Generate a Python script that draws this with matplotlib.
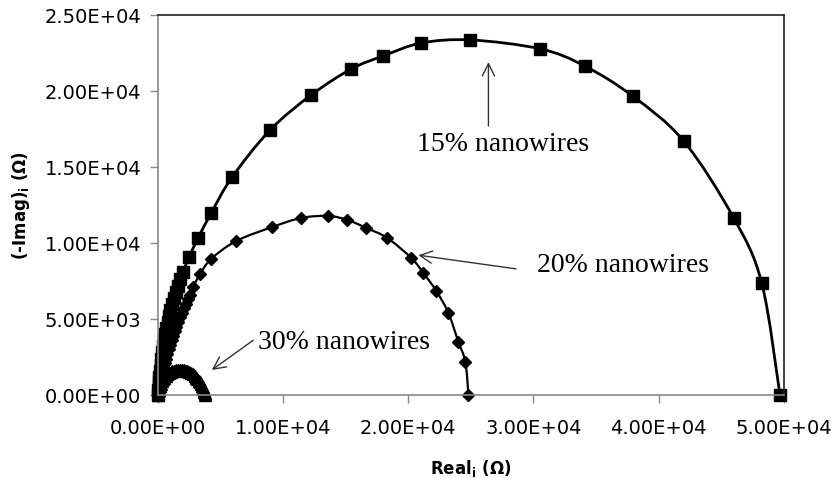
import matplotlib.pyplot as plt
from matplotlib.path import Path
from matplotlib.patches import PathPatch

# Nyquist data (Ohm)
x15 = [0, 20, 50, 80, 110, 150, 200, 260, 330, 400, 480, 570, 660, 760, 870,
       990, 1120, 1260, 1420, 1600, 1790, 2000, 2480, 3200, 4240, 5920, 8960,
       12240, 15440, 18000, 21040, 24960, 30560, 34080, 37920, 42000, 46000,
       48240, 49700]
y15 = [0, 300, 600, 900, 1200, 1600, 2000, 2400, 2800, 3200, 3600, 4000, 4400,
       4800, 5200, 5600, 6000, 6400, 6800, 7200, 7600, 8090, 9080, 10330, 11970,
       14340, 17440, 19740, 21450, 22310, 23160, 23360, 22770, 21650, 19670,
       16710, 11650, 7370, 0]

x20 = [0, 60, 130, 200, 280, 360, 450, 540, 640, 740, 850, 960, 1080, 1200,
       1330, 1460, 1600, 1750, 1900, 2060, 2220, 2400, 2580, 2800, 3360, 4240,
       6240, 9120, 11440, 13600, 15120, 16640, 18320, 20240, 21200, 22240,
       23200, 24000, 24560, 24800]
y20 = [0, 300, 600, 900, 1200, 1500, 1800, 2100, 2400, 2700, 3000, 3300, 3600,
       3900, 4200, 4500, 4800, 5100, 5400, 5700, 6000, 6300, 6600, 7110, 7960,
       8950, 10130, 11050, 11650, 11780, 11520, 10990, 10330, 9010, 8030, 6840,
       5400, 3490, 2170, 0]

x30 = [0, 20, 50, 100, 150, 220, 300, 400, 500, 620, 750, 870, 1000, 1150,
       1300, 1450, 1600, 1750, 1900, 2050, 2200, 2350, 2500, 2650, 2800, 2930,
       3050, 3150, 3250, 3330, 3400, 3480, 3550, 3600, 3650, 3700, 3750, 3760]
y30 = [0, 150, 300, 450, 600, 750, 900, 1030, 1150, 1250, 1350, 1430, 1500,
       1560, 1600, 1630, 1650, 1660, 1650, 1640, 1600, 1560, 1500, 1430, 1350,
       1250, 1150, 1050, 950, 850, 750, 620, 500, 400, 300, 200, 100, 0]

x_ticks = [0, 10000, 20000, 30000, 40000, 50000]
y_ticks = [0, 5000, 10000, 15000, 20000, 25000]


def smooth_path(xs, ys):
    # Excel-style smoothed line: Catmull-Rom segments as cubic Beziers
    pts = list(zip(xs, ys))
    verts = [pts[0]]
    codes = [Path.MOVETO]
    n = len(pts)
    for i in range(n - 1):
        p0 = pts[i - 1] if i > 0 else pts[i]
        p1, p2 = pts[i], pts[i + 1]
        p3 = pts[i + 2] if i + 2 < n else pts[i + 1]
        c1 = (p1[0] + (p2[0] - p0[0]) / 6, p1[1] + (p2[1] - p0[1]) / 6)
        c2 = (p2[0] - (p3[0] - p1[0]) / 6, p2[1] - (p3[1] - p1[1]) / 6)
        verts += [c1, c2, p2]
        codes += [Path.CURVE4] * 3
    return Path(verts, codes)


fig = plt.figure(figsize=(8.32, 4.78), dpi=100)
ax = fig.add_axes([0.19, 0.1736, 0.752, 0.795])

series = [(x30, y30, "^", 9, 1.6), (x20, y20, "D", 6.5, 1.6), (x15, y15, "s", 9, 2.0)]
for xs, ys, mk, ms, lw in series:
    ax.add_patch(PathPatch(smooth_path(xs, ys), facecolor="none", edgecolor="black",
                           linewidth=lw, clip_on=False))
    ax.plot(xs, ys, linestyle="none", color="black", marker=mk, markersize=ms,
            clip_on=False)

ax.set_xlim(0, 50000)
ax.set_ylim(0, 25000)
ax.set_xticks(x_ticks)
ax.set_yticks(y_ticks)
ax.set_xticklabels([f"{v:.2E}" for v in x_ticks])
ax.set_yticklabels([f"{v:.2E}" for v in y_ticks])
ax.tick_params(direction="out", length=6, width=1, color="#888888",
               labelsize=14, pad=6)
ax.tick_params(axis="x", pad=11)
for s in ["left", "bottom"]:
    ax.spines[s].set_color("#888888")
    ax.spines[s].set_linewidth(1.2)
for s in ["top", "right"]:
    ax.spines[s].set_color("#222222")
    ax.spines[s].set_linewidth(1.2)

ax.set_xlabel(r"Real$_\mathregular{i}$ (Ω)", fontsize=12, fontweight="bold", labelpad=15)
ax.set_ylabel(r"(-Imag)$_\mathregular{i}$ (Ω)", fontsize=12, fontweight="bold", labelpad=9)

serif = "Liberation Serif"
arrow = dict(arrowstyle="->", color="#333333", linewidth=1.0, mutation_scale=22, shrinkA=0, shrinkB=0)
ax.text(27600, 16500, "15% nanowires", fontsize=20, family=serif, ha="center", va="center")
ax.annotate("", xy=(26400, 21900), xytext=(26400, 17700), arrowprops=arrow)
ax.text(30300, 8500, "20% nanowires", fontsize=20, family=serif, ha="left", va="center")
ax.annotate("", xy=(20800, 9200), xytext=(28600, 8300), arrowprops=arrow)
ax.text(8000, 3450, "30% nanowires", fontsize=20, family=serif, ha="left", va="center")
ax.annotate("", xy=(4300, 1650), xytext=(7600, 3600), arrowprops=arrow)

fig.savefig("out.png", dpi=100)
